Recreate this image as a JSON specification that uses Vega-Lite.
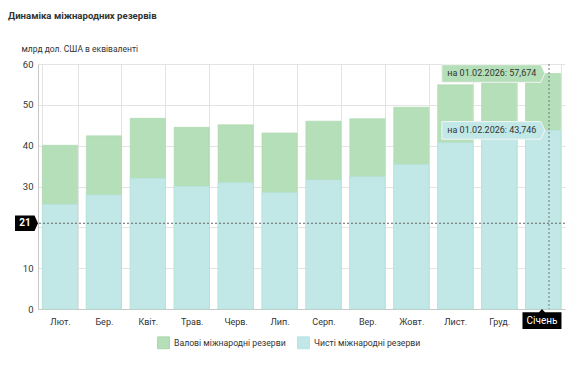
{
  "$schema": "https://vega.github.io/schema/vega-lite/v6.json",
  "width": 527,
  "height": 245,
  "autosize": {"type": "none"},
  "padding": {"left": 38, "top": 64, "right": 19, "bottom": 72},
  "background": "white",
  "title": {
    "text": "Динаміка міжнародних резервів",
    "anchor": "start",
    "frame": "group",
    "dx": -30,
    "offset": 23,
    "font": "Roboto",
    "fontSize": 9.6,
    "fontWeight": "bold",
    "color": "#333333"
  },
  "config": {
    "view": {"stroke": null},
    "font": "Roboto",
    "axis": {"labelFont": "Roboto", "labelFontSize": 9, "labelColor": "#333333", "gridColor": "#e3e3e3", "gridOpacity": 1, "domainColor": "#c8c8c8", "tickSize": 0, "tickOpacity": 0}
  },
  "datasets": {
    "bars": [
      {"m": "Лют.", "s": "Валові міжнародні резерви", "v": 40.1},
      {"m": "Бер.", "s": "Валові міжнародні резерви", "v": 42.4},
      {"m": "Квіт.", "s": "Валові міжнародні резерви", "v": 46.7},
      {"m": "Трав.", "s": "Валові міжнародні резерви", "v": 44.5},
      {"m": "Черв.", "s": "Валові міжнародні резерви", "v": 45.1},
      {"m": "Лип.", "s": "Валові міжнародні резерви", "v": 43.1},
      {"m": "Серп.", "s": "Валові міжнародні резерви", "v": 46.0},
      {"m": "Вер.", "s": "Валові міжнародні резерви", "v": 46.6},
      {"m": "Жовт.", "s": "Валові міжнародні резерви", "v": 49.4},
      {"m": "Лист.", "s": "Валові міжнародні резерви", "v": 54.9},
      {"m": "Груд.", "s": "Валові міжнародні резерви", "v": 57.3},
      {"m": "Січень", "s": "Валові міжнародні резерви", "v": 57.674},
      {"m": "Лют.", "s": "Чисті міжнародні резерви", "v": 25.6},
      {"m": "Бер.", "s": "Чисті міжнародні резерви", "v": 27.9},
      {"m": "Квіт.", "s": "Чисті міжнародні резерви", "v": 32.0},
      {"m": "Трав.", "s": "Чисті міжнародні резерви", "v": 30.0},
      {"m": "Черв.", "s": "Чисті міжнародні резерви", "v": 30.9},
      {"m": "Лип.", "s": "Чисті міжнародні резерви", "v": 28.5},
      {"m": "Серп.", "s": "Чисті міжнародні резерви", "v": 31.6},
      {"m": "Вер.", "s": "Чисті міжнародні резерви", "v": 32.4},
      {"m": "Жовт.", "s": "Чисті міжнародні резерви", "v": 35.4},
      {"m": "Лист.", "s": "Чисті міжнародні резерви", "v": 40.7},
      {"m": "Груд.", "s": "Чисті міжнародні резерви", "v": 42.8},
      {"m": "Січень", "s": "Чисті міжнародні резерви", "v": 43.746}
    ],
    "tips": [
      {"m": "Січень", "s": "Валові міжнародні резерви", "v": 57.674, "t": "на 01.02.2026: 57,674"},
      {"m": "Січень", "s": "Чисті міжнародні резерви", "v": 43.746, "t": "на 01.02.2026: 43,746"}
    ]
  },
  "layer": [
    {
      "data": {"name": "bars"},
      "mark": {"type": "bar", "strokeWidth": 0.6},
      "encoding": {
        "x": {
          "field": "m", "type": "ordinal",
          "scale": {"domain": ["Лют.", "Бер.", "Квіт.", "Трав.", "Черв.", "Лип.", "Серп.", "Вер.", "Жовт.", "Лист.", "Груд.", "Січень"], "paddingInner": 0.2, "paddingOuter": 0.1},
          "axis": {
            "title": null, "labelAngle": 0, "grid": true, "tickBand": "extent",
            "labelPadding": 8, "labelOverlap": false,
            "labelExpr": "datum.value === 'Січень' ? '' : datum.label"
          }
        },
        "y": {
          "field": "v", "type": "quantitative", "stack": null,
          "scale": {"domain": [0, 60], "nice": false},
          "axis": {
            "title": "млрд дол. США в еквіваленті", "titleAngle": 0, "titleAlign": "left",
            "titleBaseline": "middle", "titleX": -17, "titleY": -16, "titleFont": "Roboto",
            "titleFontSize": 8.5, "titleFontWeight": "normal", "titleColor": "#333333",
            "grid": true, "labelOverlap": false, "labelFontSize": 9.5,
            "values": [0, 10, 20, 30, 40, 50, 60], "labelPadding": 5,
            "labelExpr": "datum.value === 20 ? '' : datum.label"
          }
        },
        "color": {
          "field": "s", "type": "nominal",
          "scale": {"domain": ["Валові міжнародні резерви", "Чисті міжнародні резерви"], "range": ["#b5dfb8", "#c1e8e7"]},
          "legend": {
            "title": null, "orient": "none", "legendX": 119, "legendY": 272, "direction": "horizontal", "symbolType": "square",
            "symbolSize": 140, "symbolStrokeColor": "#e6e6e6", "symbolStrokeWidth": 1, "labelOffset": 4,
            "labelFontSize": 8.7, "labelColor": "#333333", "labelFont": "Roboto", "columnPadding": 9
          }
        },
        "stroke": {
          "field": "s", "type": "nominal",
          "scale": {"domain": ["Валові міжнародні резерви", "Чисті міжнародні резерви"], "range": ["#a8d6ab", "#b6e2e1"]},
          "legend": null
        }
      }
    },
    {
      "data": {"values": [{}]},
      "mark": {"type": "rule", "color": "#666666", "strokeDash": [2, 2], "strokeWidth": 1},
      "encoding": {"y": {"datum": 21, "type": "quantitative"}}
    },
    {
      "data": {"values": [{"m": "Січень"}]},
      "mark": {"type": "rule", "color": "#777777", "strokeDash": [2, 2], "strokeWidth": 1},
      "encoding": {"x": {"field": "m", "type": "ordinal", "bandPosition": 0.67}}
    },
    {
      "data": {"values": [{}]},
      "mark": {"type": "point", "filled": true, "opacity": 1, "color": "black", "size": 400, "shape": "M-2.3,-0.78H-0.35L0,0L-0.35,0.78H-2.3Z"},
      "encoding": {"x": {"value": 0}, "y": {"datum": 21, "type": "quantitative"}}
    },
    {
      "data": {"values": [{}]},
      "mark": {"type": "text", "color": "white", "fontSize": 10, "fontWeight": "bold", "dx": -13, "align": "center", "baseline": "middle"},
      "encoding": {"x": {"value": 0}, "y": {"datum": 21, "type": "quantitative"}, "text": {"value": "21"}}
    },
    {
      "data": {"values": [{"m": "Січень"}]},
      "mark": {"type": "point", "filled": true, "opacity": 1, "color": "black", "size": 400, "shape": "M-1.95,0.32H-0.3L0,0L0.3,0.32H1.95V2H-1.95Z"},
      "encoding": {"x": {"field": "m", "type": "ordinal", "bandPosition": 0.47}, "y": {"datum": 0, "type": "quantitative"}}
    },
    {
      "data": {"values": [{"m": "Січень"}]},
      "mark": {"type": "text", "color": "white", "fontSize": 10, "dy": 11.5, "align": "center", "baseline": "middle"},
      "encoding": {"x": {"field": "m", "type": "ordinal", "bandPosition": 0.47}, "y": {"datum": 0, "type": "quantitative"}, "text": {"field": "m"}}
    },
    {
      "data": {"name": "tips"},
      "mark": {"type": "point", "filled": true, "opacity": 1, "size": 400, "stroke": "#f4f4f4", "strokeWidth": 1, "shape": "M-10.3,-0.88H-0.4L0,0L-0.4,0.88H-10.3Z"},
      "encoding": {
        "x": {"field": "m", "type": "ordinal", "bandPosition": 0.55},
        "y": {"field": "v", "type": "quantitative"},
        "color": {"field": "s", "type": "nominal", "legend": null}
      }
    },
    {
      "data": {"name": "tips"},
      "mark": {"type": "text", "color": "#333333", "fontSize": 9, "dx": -53, "align": "center", "baseline": "middle"},
      "encoding": {
        "x": {"field": "m", "type": "ordinal", "bandPosition": 0.55},
        "y": {"field": "v", "type": "quantitative"},
        "text": {"field": "t"}
      }
    }
  ]
}
